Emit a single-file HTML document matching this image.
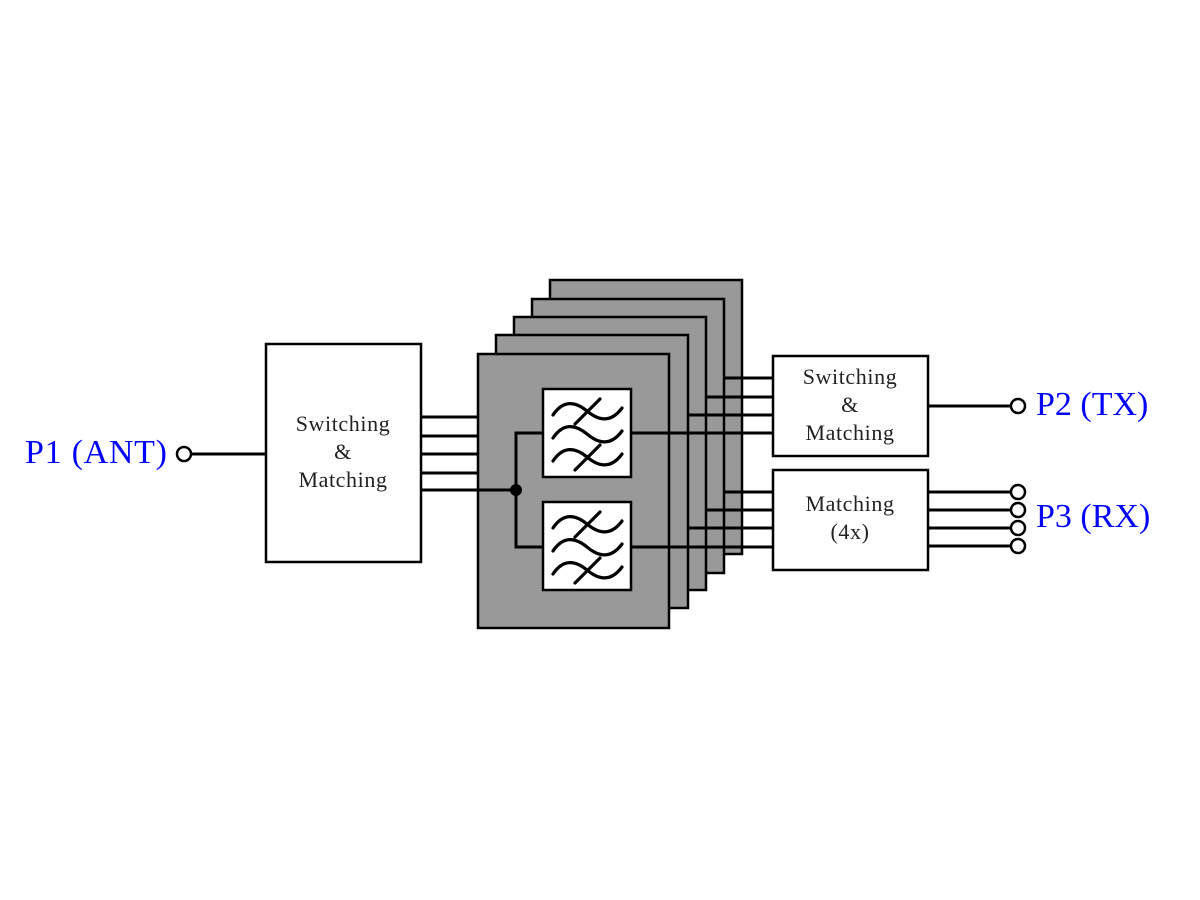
<!DOCTYPE html>
<html><head><meta charset="utf-8"><style>
html,body{margin:0;padding:0;background:#fff;}
svg{display:block;}
</style></head><body>
<svg width="1200" height="900" viewBox="0 0 1200 900" xmlns="http://www.w3.org/2000/svg">
<defs>
<g id="flt">
  <rect x="0" y="0" width="88" height="88" fill="#fff" stroke="#000" stroke-width="2.5"/>
  <g fill="none" stroke="#000" stroke-width="3.2" stroke-linecap="round">
    <path d="M10 26 C20 11 32 12 44 22 C56 32 68 34 79 19"/>
    <path d="M10 49 C20 34 32 35 44 45 C56 55 68 57 79 42"/>
    <path d="M10 72 C20 57 32 58 44 68 C56 78 68 80 79 65"/>
    <path d="M32 35 L57 10"/>
    <path d="M32 81 L57 56"/>
  </g>
</g>
</defs>
<g stroke="#000" stroke-width="2.5" fill="#999">
  <rect x="550" y="280" width="192" height="274"/>
  <rect x="532" y="299" width="192" height="274"/>
  <rect x="514" y="317" width="192" height="273"/>
  <rect x="496" y="335" width="192" height="273"/>
  <rect x="478" y="354" width="191" height="274"/>
</g>
<g stroke="#000" stroke-width="3" fill="none">
  <line x1="421" y1="417" x2="478" y2="417"/>
  <line x1="421" y1="436" x2="478" y2="436"/>
  <line x1="421" y1="454" x2="478" y2="454"/>
  <line x1="421" y1="473" x2="478" y2="473"/>
  <line x1="421" y1="490" x2="516" y2="490"/>
  <polyline points="543,433 516,433 516,547 543,547"/>
  <line x1="631" y1="433" x2="773" y2="433"/>
  <line x1="631" y1="547" x2="773" y2="547"/>
  <line x1="725" y1="378" x2="773" y2="378"/>
  <line x1="707" y1="397" x2="773" y2="397"/>
  <line x1="689" y1="415" x2="773" y2="415"/>
  <line x1="725" y1="492" x2="773" y2="492"/>
  <line x1="707" y1="510" x2="773" y2="510"/>
  <line x1="689" y1="528" x2="773" y2="528"/>
  <line x1="190" y1="454" x2="266" y2="454"/>
  <line x1="928" y1="406" x2="1011" y2="406"/>
  <line x1="928" y1="492" x2="1011" y2="492"/>
  <line x1="928" y1="510" x2="1011" y2="510"/>
  <line x1="928" y1="528" x2="1011" y2="528"/>
  <line x1="928" y1="546" x2="1011" y2="546"/>
</g>
<circle cx="516" cy="490" r="6" fill="#000"/>
<use href="#flt" x="543" y="389"/>
<use href="#flt" x="543" y="502"/>
<g stroke="#000" stroke-width="2.5" fill="#fff">
  <rect x="266" y="344" width="155" height="218"/>
  <rect x="773" y="356" width="155" height="100"/>
  <rect x="773" y="470" width="155" height="100"/>
  <circle cx="184" cy="454" r="7"/>
  <circle cx="1018" cy="406" r="7"/>
  <circle cx="1018" cy="492" r="7"/>
  <circle cx="1018" cy="510" r="7"/>
  <circle cx="1018" cy="528" r="7"/>
  <circle cx="1018" cy="546" r="7"/>
</g>
<g font-family="Liberation Serif, serif" font-size="22" fill="#222" text-anchor="middle" letter-spacing="0.6">
  <text x="343" y="431">Switching</text>
  <text x="343" y="459">&amp;</text>
  <text x="343" y="487">Matching</text>
  <text x="850" y="384">Switching</text>
  <text x="850" y="412">&amp;</text>
  <text x="850" y="440">Matching</text>
  <text x="850" y="511">Matching</text>
  <text x="850" y="539">(4x)</text>
</g>
<g font-family="Liberation Serif, serif" font-size="34" fill="#0000ff">
  <text x="25" y="463" textLength="142">P1 (ANT)</text>
  <text x="1036" y="415">P2 (TX)</text>
  <text x="1036" y="527">P3 (RX)</text>
</g>
</svg>
</body></html>
